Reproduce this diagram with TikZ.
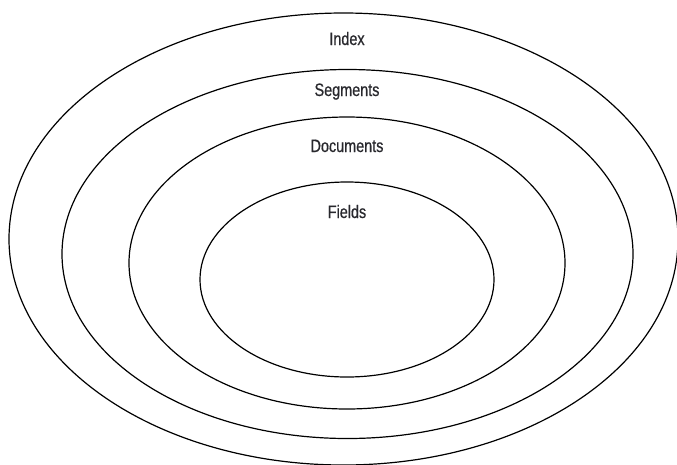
\documentclass[tikz,border=0pt]{standalone}
\usepackage{fontspec}
\setmainfont{Liberation Sans}[FakeStretch=0.8, FakeBold=0.6]
\usepackage{xcolor}
\usetikzlibrary{positioning}
\definecolor{ink}{RGB}{40,40,45}

\tikzset{
  ring/.style={draw=black, line width=1.2pt},
  layer/.style={font=\fontsize{18}{20}\selectfont, text=ink, anchor=base, inner sep=0pt}
}

\begin{document}
\begin{tikzpicture}[x=1pt, y=-1pt]
\useasboundingbox (0,0) rectangle (677,464);
% nested layers, outermost first
\draw[ring] (343.5,239) ellipse [x radius=334.5, y radius=226];
\draw[ring] (347.5,254) ellipse [x radius=285.5, y radius=184.5];
\draw[ring] (347,263) ellipse [x radius=218, y radius=146];
\draw[ring] (347,279.5) ellipse [x radius=147, y radius=97.5];
% layer names
\node[layer] (index) at (347,45) {Index};
\node[layer] (segments) at (347,96) {Segments};
\node[layer] (documents) at (347,152) {Documents};
\node[layer] (fields) at (347,218) {Fields};
\end{tikzpicture}
\end{document}
